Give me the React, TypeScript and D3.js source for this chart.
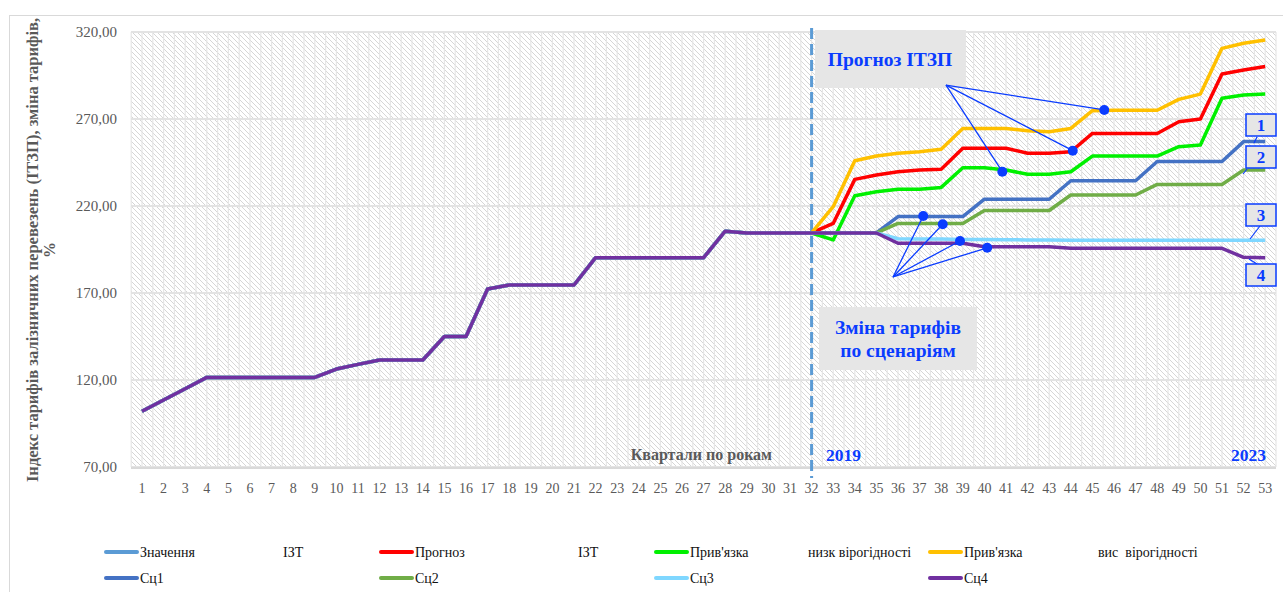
import React from 'react';
import * as d3 from 'd3';

// quarters 1..53
const quarters = d3.range(1, 54);

// fact index (quarters 1..32)
const history = [
  102, 108.5, 115, 121.5, 121.5, 121.5, 121.5, 121.5, 121.5, 126.3,
  129, 131.5, 131.5, 131.5, 145, 145, 172.3, 174.6, 174.6, 174.6,
  174.6, 190.3, 190.3, 190.3, 190.3, 190.3, 190.3, 205.5, 204.5, 204.5,
  204.5, 204.5,
];

// forecasts, quarters 33..53
const forecastMain = [210, 235.3, 237.8, 239.7, 240.7, 241.1, 253.2, 253.2, 253.2, 250.3, 250.3, 251.2, 261.7, 261.7, 261.7, 261.7, 268.4, 270, 295.9, 298.2, 300.2];
const forecastLow = [200.5, 225.9, 228.2, 229.6, 229.6, 230.7, 242, 242, 240.7, 238.2, 238.2, 239.7, 248.7, 248.7, 248.7, 248.7, 254.1, 255, 281.9, 283.8, 284.4];
const forecastHigh = [219.6, 246, 248.7, 250.3, 251.2, 252.6, 264.6, 264.6, 264.6, 263.3, 262.7, 264.6, 274.8, 275.1, 275, 275, 281.3, 284.3, 310.6, 313.5, 315.4];
const sc1 = [204.5, 204.5, 204.5, 213.9, 213.9, 213.9, 213.9, 223.9, 223.9, 223.9, 223.9, 234.5, 234.5, 234.5, 234.5, 245.6, 245.6, 245.6, 245.6, 257, 257];
const sc2 = [204.5, 204.5, 204.5, 210, 210, 210, 210, 217.4, 217.4, 217.4, 217.4, 226.3, 226.3, 226.3, 226.3, 232.4, 232.4, 232.4, 232.4, 240.7, 240.7];
const sc3 = [204.5, 204.5, 204.5, 201.2, 201, 201, 200.8, 200.7, 200.6, 200.5, 200.4, 200.3, 200.3, 200.3, 200.3, 200.3, 200.3, 200.3, 200.3, 200.3, 200.3];
const sc4 = [204.5, 204.5, 204.5, 198.6, 198.6, 198.6, 198.6, 196.6, 196.6, 196.6, 196.6, 195.7, 195.7, 195.7, 195.7, 195.7, 195.7, 195.7, 195.7, 190.5, 190.3];

const yTicks = [70, 120, 170, 220, 270, 320];

const seriesNames = ['Значення', 'Прогноз', "Прив'язка", "Прив'язка", 'Сц1', 'Сц2', 'Сц3', 'Сц4'];
const seriesSuffix = ['ІЗТ', 'ІЗТ', 'низк вірогідності', 'вис  вірогідності', '', '', '', ''];
const seriesColors = ['#5B9BD5', '#FF0000', '#00F000', '#FFC000', '#4472C4', '#70AD47', '#7FD7FF', '#7030A0'];

// annotation anchors [quarter, value]
const forecastDots = [[45.55, 275.2], [44.09, 251.8], [40.83, 239.7]];
const forecastHub = [38.22, 289.5];
const scenarioDots = [[37.17, 214.3], [38.07, 209.5], [38.87, 199.9], [40.13, 196.0]];
const scenarioHub = [35.77, 179.2];

const W = 1283;
const H = 592;
const plotL = 131;
const plotR = 1276;
const plotT = 32;
const plotB = 467;
const serif = '"Liberation Serif", "Times New Roman", serif';
const annBlue = '#0A3CFF';

export default function App() {
  const x = d3.scaleLinear().domain([1, 53]).range([142, 1265.2]);
  const y = d3.scaleLinear().domain([70, 320]).range([plotB, plotT]);
  const line = d3.line<[number, number]>().x((d) => x(d[0])).y((d) => y(d[1]));

  const full = (f: number[]) => history.concat(f).map((v, i) => [quarters[i], v] as [number, number]);
  const tail = (f: number[]) => [history[31]].concat(f).map((v, i) => [quarters[i + 31], v] as [number, number]);

  const series = [
    history.map((v, i) => [quarters[i], v] as [number, number]),
    tail(forecastMain),
    tail(forecastLow),
    tail(forecastHigh),
    full(sc1),
    full(sc2),
    full(sc3),
    full(sc4),
  ];

  const halfSteps = d3.range(0.5, 53.51, 0.5);
  const legendCols = [106, 381, 656, 930];
  const suffixOffset = [177, 197, 152, 168];

  // right-hand numbered boxes
  const numLabels = [
    { t: '1', by: 114, from: [1257, 137], to: [1254, 143] },
    { t: '2', by: 146, from: [1247, 169], to: [1243, 174] },
    { t: '3', by: 204, from: [1260, 226], to: [1250, 239] },
    { t: '4', by: 264, from: [1257, 264], to: [1249, 259] },
  ];

  return (
    <svg width={W} height={H} style={{ position: 'absolute', left: 0, top: 0, fontFamily: serif }}>
      <defs>
        <pattern id="hatch" patternUnits="userSpaceOnUse" width="5" height="5">
          <path d="M0,0 L5,5 M-1,4 L1,6 M4,-1 L6,1" stroke="#d6d6d6" strokeWidth="1" />
        </pattern>
      </defs>
      <rect x={0} y={0} width={W} height={H} fill="#fff" />
      <rect x={9.5} y={15.5} width={W} height={H} fill="none" stroke="#d9d9d9" strokeWidth={1} />

      {/* plot area */}
      <rect x={plotL} y={plotT} width={plotR - plotL} height={plotB - plotT} fill="url(#hatch)" />
      {halfSteps.map((q) => (
        <line key={'v' + q} x1={x(q)} x2={x(q)} y1={plotT} y2={plotB} stroke="#e6e6e6" strokeWidth={1.2} />
      ))}
      {yTicks.map((t) => (
        <line key={'h' + t} x1={plotL} x2={plotR} y1={y(t)} y2={y(t)} stroke="#e3e3e3" strokeWidth={2} />
      ))}
      <line x1={plotL} x2={plotR} y1={plotB + 1} y2={plotB + 1} stroke="#d9d9d9" strokeWidth={2} />

      {/* y axis */}
      {yTicks.map((t) => (
        <text key={'yt' + t} x={117} y={y(t)} dy="0.35em" textAnchor="end" fontSize={15} fill="#595959">
          {d3.format('.2f')(t).replace('.', ',')}
        </text>
      ))}
      <g transform="translate(38,250) rotate(-90)">
        <text textAnchor="middle" fontSize={16.5} fontWeight="bold" fill="#595959">
          Індекс тарифів залізничних перевезень (ІТЗП), зміна тарифів,
        </text>
        <text y={17} textAnchor="middle" fontSize={16} fontWeight="bold" fill="#595959">%</text>
      </g>

      {/* x axis */}
      {quarters.map((q) => (
        <text key={'xt' + q} x={x(q)} y={493} textAnchor="middle" fontSize={14} fill="#595959">{q}</text>
      ))}
      <text x={772} y={460} textAnchor="end" fontSize={16} fontWeight="bold" fill="#595959">Квартали по рокам</text>
      <text x={826} y={461} fontSize={17.5} fontWeight="bold" fill={annBlue}>2019</text>
      <text x={1266} y={461} textAnchor="end" fontSize={17.5} fontWeight="bold" fill={annBlue}>2023</text>

      {/* forecast start marker */}
      <line x1={x(32)} x2={x(32)} y1={28} y2={478} stroke="#5B9BD5" strokeWidth={3} strokeDasharray="11,5" />

      {/* series */}
      {series.map((s, i) => (
        <path key={'s' + i} d={line(s) || ''} fill="none" stroke={seriesColors[i]} strokeWidth={3.5} strokeLinejoin="round" />
      ))}

      {/* forecast annotation */}
      <rect x={815} y={30} width={151} height={58} fill="#e6e6e6" />
      <text x={890} y={66} textAnchor="middle" fontSize={19.5} fontWeight="bold" fill={annBlue}>Прогноз ІТЗП</text>
      {forecastDots.map((d, i) => (
        <g key={'fd' + i}>
          <line x1={x(forecastHub[0])} y1={y(forecastHub[1])} x2={x(d[0])} y2={y(d[1])} stroke={annBlue} strokeWidth={1.3} />
          <circle cx={x(d[0])} cy={y(d[1])} r={5} fill={annBlue} />
        </g>
      ))}

      {/* scenario annotation */}
      <rect x={819} y={307} width={158} height={63} fill="#e6e6e6" />
      <text x={898} y={334} textAnchor="middle" fontSize={19.5} fontWeight="bold" fill={annBlue}>Зміна тарифів</text>
      <text x={898} y={357} textAnchor="middle" fontSize={19.5} fontWeight="bold" fill={annBlue}>по сценаріям</text>
      {scenarioDots.map((d, i) => (
        <g key={'sd' + i}>
          <line x1={x(scenarioHub[0])} y1={y(scenarioHub[1])} x2={x(d[0])} y2={y(d[1])} stroke={annBlue} strokeWidth={1.3} />
          <circle cx={x(d[0])} cy={y(d[1])} r={5} fill={annBlue} />
        </g>
      ))}

      {/* numbered scenario labels */}
      {numLabels.map((n) => (
        <g key={'n' + n.t}>
          <line x1={n.from[0]} y1={n.from[1]} x2={n.to[0]} y2={n.to[1]} stroke={annBlue} strokeWidth={1.2} />
          <rect x={1246} y={n.by} width={30} height={22} fill="#e6e6e6" stroke={annBlue} strokeWidth={1.5} />
          <text x={1261} y={n.by + 17} textAnchor="middle" fontSize={17} fontWeight="bold" fill={annBlue}>{n.t}</text>
        </g>
      ))}

      {/* legend */}
      {seriesNames.map((name, i) => {
        const cx = legendCols[i % 4];
        const cy = i < 4 ? 552 : 578;
        return (
          <g key={'lg' + i}>
            <line x1={cx} x2={cx + 31} y1={cy} y2={cy} stroke={seriesColors[i]} strokeWidth={4} strokeLinecap="round" />
            <text x={cx + 34} y={cy} dy="0.35em" fontSize={14} fill="#111">{name}</text>
            {seriesSuffix[i] && (
              <text x={cx + suffixOffset[i % 4]} y={cy} dy="0.35em" fontSize={14} fill="#111" style={{ whiteSpace: 'pre' }}>
                {seriesSuffix[i]}
              </text>
            )}
          </g>
        );
      })}
    </svg>
  );
}
